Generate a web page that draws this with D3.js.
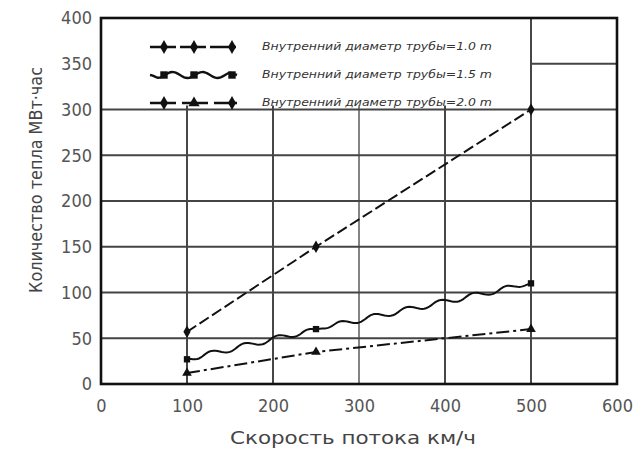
<!DOCTYPE html>
<html>
<head>
<meta charset="utf-8">
<script src="https://cdn.jsdelivr.net/npm/d3@7"></script>
<style>
  html, body { margin: 0; padding: 0; background: #fff; }
  svg { display: block; }
  .tick-label { font-family: "DejaVu Sans Condensed", "DejaVu Sans", sans-serif; fill: #555; }
</style>
</head>
<body>
<svg id="chart" width="643" height="452"></svg>
<script>
// Flow speed (km/h) at which heat quantity was computed
const speeds = [100, 250, 500];
// Heat quantity, MWh, for each inner pipe diameter
const heat10 = [57, 150, 300];
const heat15 = [27, 60, 110];
const heat20 = [12, 35, 60];
const seriesNames = [
  "Внутренний диаметр трубы=1.0 m",
  "Внутренний диаметр трубы=1.5 m",
  "Внутренний диаметр трубы=2.0 m"
];
const xTicks = [0, 100, 200, 300, 400, 500, 600];
const yTicks = [0, 50, 100, 150, 200, 250, 300, 350, 400];
const xTitle = "Скорость потока км/ч";
const yTitle = "Количество тепла МВт·час";

const svg = d3.select("#chart");
const plotLeft = 101, plotRight = 617, plotTop = 18, plotBottom = 384;

const x = d3.scaleLinear().domain([0, 600]).range([plotLeft, plotRight]);
const y = d3.scaleLinear().domain([0, 400]).range([plotBottom, plotTop]);

// grid
const grid = svg.append("g");
grid.selectAll("line.v").data(xTicks.slice(1, -1)).join("line")
  .attr("x1", d => x(d)).attr("x2", d => x(d))
  .attr("y1", plotTop).attr("y2", plotBottom)
  .attr("stroke", (d) => d === 300 ? "#777" : "#333").attr("stroke-width", 1.8);
grid.selectAll("line.h").data(yTicks.slice(1, -1)).join("line")
  .attr("x1", plotLeft).attr("x2", plotRight)
  .attr("y1", d => y(d)).attr("y2", d => y(d))
  .attr("stroke", "#444").attr("stroke-width", 1.8);

// legend panel covers the upper-left grid cells
svg.append("rect")
  .attr("x", plotLeft + 1).attr("y", plotTop + 1)
  .attr("width", x(500) - plotLeft - 2).attr("height", y(300) - plotTop - 5)
  .attr("fill", "#fff");

// frame
svg.append("rect")
  .attr("x", plotLeft).attr("y", plotTop)
  .attr("width", plotRight - plotLeft).attr("height", plotBottom - plotTop)
  .attr("fill", "none").attr("stroke", "#111").attr("stroke-width", 2.6);

// axes labels (ticks drawn via d3 axes, domain hidden)
const xAxis = d3.axisBottom(x).tickValues(xTicks).tickSize(0).tickPadding(15);
const gx = svg.append("g").attr("transform", `translate(0,${plotBottom})`).call(xAxis);
gx.select(".domain").remove();
gx.selectAll("text").attr("class", "tick-label").attr("font-size", 18);

const yAxis = d3.axisLeft(y).tickValues(yTicks).tickSize(0).tickPadding(9);
const gy = svg.append("g").attr("transform", `translate(${plotLeft},0)`).call(yAxis);
gy.select(".domain").remove();
gy.selectAll("text").attr("class", "tick-label").attr("font-size", 18);

svg.append("text")
  .attr("x", 353).attr("y", 444)
  .attr("text-anchor", "middle")
  .attr("font-family", "DejaVu Sans Condensed, DejaVu Sans, sans-serif")
  .attr("font-size", 18).attr("fill", "#444")
  .attr("textLength", 246).attr("lengthAdjust", "spacingAndGlyphs")
  .text(xTitle);

svg.append("text")
  .attr("transform", `translate(42,180) rotate(-90)`)
  .attr("text-anchor", "middle")
  .attr("font-family", "DejaVu Sans Condensed, DejaVu Sans, sans-serif")
  .attr("font-size", 17).attr("fill", "#444")
  .attr("textLength", 226).attr("lengthAdjust", "spacingAndGlyphs")
  .text(yTitle);

// wavy stroke through a polyline of pixel points
function wavyPath(pts, amp, wave) {
  let out = [];
  for (let i = 0; i < pts.length - 1; i++) {
    const [x0, y0] = pts[i], [x1, y1] = pts[i + 1];
    const len = Math.hypot(x1 - x0, y1 - y0);
    const nx = -(y1 - y0) / len, ny = (x1 - x0) / len;
    const steps = Math.ceil(len / 2);
    for (let s = 0; s <= steps; s++) {
      const t = s / steps;
      const off = amp * Math.sin(2 * Math.PI * t * len / wave) * Math.sin(Math.PI * Math.min(1, t * 8, (1 - t) * 8) / 2);
      out.push([x0 + (x1 - x0) * t + nx * off, y0 + (y1 - y0) * t + ny * off]);
    }
  }
  return d3.line()(out);
}

const series = [
  { vals: heat10, dash: "11,4", wavy: false, sym: d3.symbolDiamond },
  { vals: heat15, dash: null, wavy: true, sym: d3.symbolSquare },
  { vals: heat20, dash: "13,4,3,4", wavy: false, sym: d3.symbolTriangle }
];

const plot = svg.append("g");
series.forEach(s => {
  const pts = speeds.map((v, i) => [x(v), y(s.vals[i])]);
  const p = plot.append("path")
    .attr("fill", "none").attr("stroke", "#111").attr("stroke-width", 2)
    .attr("d", s.wavy ? wavyPath(pts, 2.6, 34) : d3.line()(pts));
  if (s.dash) p.attr("stroke-dasharray", s.dash);
  plot.selectAll(null).data(pts).join("path")
    .attr("transform", d => `translate(${d[0]},${d[1]})`)
    .attr("d", d3.symbol().type(s.sym).size(s.sym === d3.symbolDiamond ? 45 : 40))
    .attr("fill", "#111");
});

// legend
const legendRows = [47, 75, 103];
series.forEach((s, i) => {
  const ly = legendRows[i];
  const pts = [[150, ly], [237, ly]];
  const p = svg.append("path")
    .attr("fill", "none").attr("stroke", "#111").attr("stroke-width", 2.4)
    .attr("d", s.wavy ? wavyPath(pts, 3, 30) : d3.line()(pts));
  if (s.dash) p.attr("stroke-dasharray", s.dash === "11,4" ? "26,4" : "26,6");
  [164, 194, 232].forEach((mx, k) => {
    const sym = (s.sym === d3.symbolTriangle && k !== 1) ? d3.symbolDiamond : s.sym;
    svg.append("path")
      .attr("transform", `translate(${mx},${ly})`)
      .attr("d", d3.symbol().type(sym).size(55))
      .attr("fill", "#111");
  });
  svg.append("text")
    .attr("x", 262).attr("y", ly + 3)
    .attr("font-family", "DejaVu Sans Condensed, sans-serif")
    .attr("font-style", "italic")
    .attr("font-size", 10).attr("fill", "#333")
    .attr("textLength", 230).attr("lengthAdjust", "spacingAndGlyphs")
    .text(seriesNames[i]);
});
</script>
</body>
</html>
